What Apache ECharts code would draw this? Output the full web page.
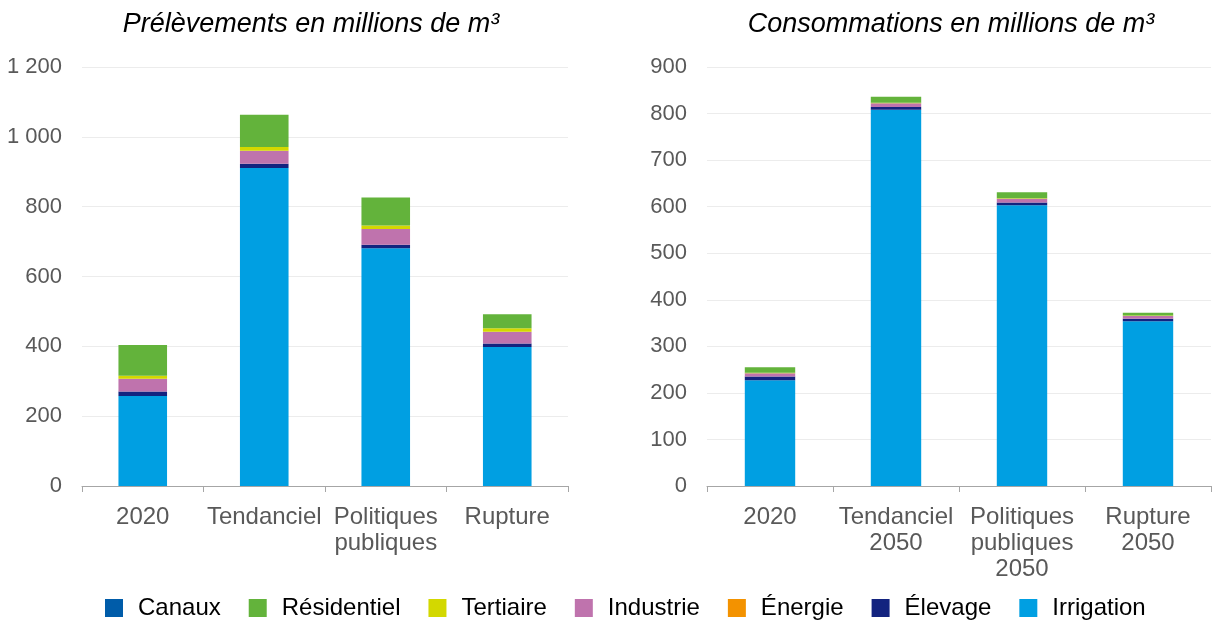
<!DOCTYPE html>
<html>
<head>
<meta charset="utf-8">
<script src="https://cdn.jsdelivr.net/npm/echarts@6/dist/echarts.min.js"></script>
<style>
  html, body { margin: 0; padding: 0; background: #fff; }
  #chart { width: 1218px; height: 623px; }
</style>
</head>
<body>
<div id="chart"></div>
<script>
// catégories
const catsPrel = ['2020', 'Tendanciel', 'Politiques\npubliques', 'Rupture'];
const catsCons = ['2020', 'Tendanciel\n2050', 'Politiques\npubliques\n2050', 'Rupture\n2050'];

// prélèvements (millions de m3)
const prelIrrigation  = [258, 911, 681, 398];
const prelElevage     = [13, 12, 10, 10];
const prelEnergie     = [0, 0, 0, 0];
const prelIndustrie   = [36, 37, 45, 34];
const prelTertiaire   = [9, 11, 10, 10];
const prelResidentiel = [88, 92, 80, 40];
const prelCanaux      = [0, 0, 0, 0];

// consommations (millions de m3)
const consIrrigation  = [227, 808, 603, 354];
const consElevage     = [8, 6, 6, 5];
const consEnergie     = [0, 0, 0, 0];
const consIndustrie   = [7, 8, 8, 6];
const consTertiaire   = [1, 1, 1, 1];
const consResidentiel = [12, 13, 13, 6];
const consCanaux      = [0, 0, 0, 0];

const legendNames = ['Canaux', 'Résidentiel', 'Tertiaire', 'Industrie', 'Énergie', 'Élevage', 'Irrigation'];
const couleurs = {
  'Canaux': '#005ca9',
  'Résidentiel': '#63b33b',
  'Tertiaire': '#d3d800',
  'Industrie': '#bf73ad',
  'Énergie': '#f39200',
  'Élevage': '#13237f',
  'Irrigation': '#009fe2'
};

const FONT = 'Liberation Sans, Arial, sans-serif';

function fmt(v) {
  return String(v).replace(/\B(?=(\d{3})+(?!\d))/g, ' ');
}

// ordre d'empilement, du bas vers le haut
const pile = [
  ['Irrigation', prelIrrigation, consIrrigation],
  ['Élevage', prelElevage, consElevage],
  ['Énergie', prelEnergie, consEnergie],
  ['Industrie', prelIndustrie, consIndustrie],
  ['Tertiaire', prelTertiaire, consTertiaire],
  ['Résidentiel', prelResidentiel, consResidentiel],
  ['Canaux', prelCanaux, consCanaux]
];

const series = [];
pile.forEach(([nom, prel, cons]) => {
  series.push({
    name: nom, type: 'bar', stack: 'prel', xAxisIndex: 0, yAxisIndex: 0,
    barWidth: '40%', itemStyle: { color: couleurs[nom] }, data: prel
  });
  series.push({
    name: nom, type: 'bar', stack: 'cons', xAxisIndex: 1, yAxisIndex: 1,
    barWidth: '40%', itemStyle: { color: couleurs[nom] }, data: cons
  });
});

const xCommon = {
  type: 'category',
  axisLine: { lineStyle: { color: '#a6a6a6', width: 1 } },
  axisTick: { show: true, length: 6, lineStyle: { color: '#a6a6a6' } },
  axisLabel: { color: '#595959', fontSize: 24, fontFamily: FONT, lineHeight: 26, margin: 18, interval: 0 }
};
const yCommon = {
  type: 'value',
  min: 0,
  axisLine: { show: false },
  axisTick: { show: false },
  splitLine: { lineStyle: { color: '#ececec', width: 1 } },
  axisLabel: { color: '#595959', fontSize: 22, fontFamily: FONT, margin: 20, formatter: fmt }
};

const titreStyle = { fontSize: 27, fontStyle: 'italic', fontWeight: 'normal', color: '#000', fontFamily: FONT };

const chart = echarts.init(document.getElementById('chart'));
chart.setOption({
  animation: false,
  backgroundColor: '#fff',
  title: [
    { text: 'Prélèvements en millions de m³', left: 306, top: 6, textAlign: 'center', textStyle: titreStyle },
    { text: 'Consommations en millions de m³', left: 946, top: 6, textAlign: 'center', textStyle: titreStyle }
  ],
  legend: {
    data: legendNames,
    top: 591,
    left: 100,
    itemWidth: 18,
    itemHeight: 18,
    itemGap: 28,
    icon: 'rect',
    textStyle: { fontSize: 24, color: '#000', fontFamily: FONT, padding: [0, 0, 0, 10] }
  },
  grid: [
    { left: 82, top: 67, width: 486, height: 419 },
    { left: 707, top: 67, width: 504, height: 419 }
  ],
  xAxis: [
    Object.assign({}, xCommon, { gridIndex: 0, data: catsPrel }),
    Object.assign({}, xCommon, { gridIndex: 1, data: catsCons })
  ],
  yAxis: [
    Object.assign({}, yCommon, { gridIndex: 0, max: 1200, interval: 200 }),
    Object.assign({}, yCommon, { gridIndex: 1, max: 900, interval: 100 })
  ],
  series: series
});
</script>
</body>
</html>
